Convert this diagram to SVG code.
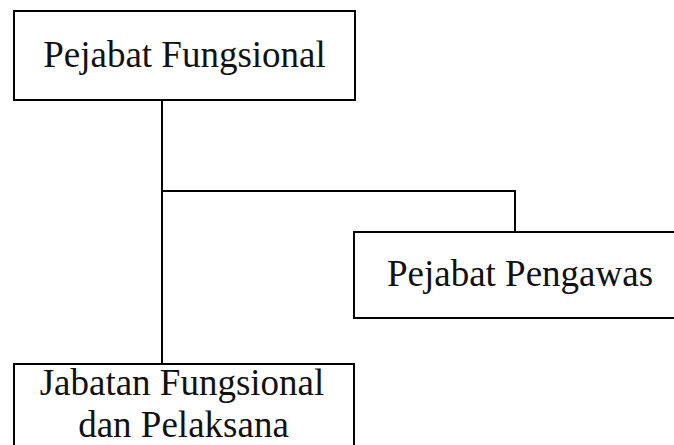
<svg xmlns="http://www.w3.org/2000/svg" width="674" height="445" viewBox="0 0 674 445">
<style>
.box{fill:#fff;stroke:#000;stroke-width:2}
.lbl{font-family:"Liberation Serif","Times New Roman",serif;font-size:37px;fill:#111;text-anchor:middle}
.conn{fill:none;stroke:#000;stroke-width:2}
</style>
<rect width="674" height="445" fill="#fff"/>
<g id="connectors">
<path class="conn" d="M162,100 V364"/>
<path class="conn" d="M162,191 H515 V232"/>
</g>
<g id="pejabat-fungsional">
<rect class="box" x="14" y="11" width="341" height="89"/>
<text class="lbl" x="184.5" y="67">Pejabat Fungsional</text>
</g>
<g id="pejabat-pengawas">
<rect class="box" x="354" y="232" width="340" height="86"/>
<text class="lbl" x="520" y="286">Pejabat Pengawas</text>
</g>
<g id="jabatan-fungsional">
<rect class="box" x="14" y="364" width="340" height="100"/>
<text class="lbl" x="182" y="395">Jabatan Fungsional</text>
<text class="lbl" x="183.5" y="437">dan Pelaksana</text>
</g>
</svg>
